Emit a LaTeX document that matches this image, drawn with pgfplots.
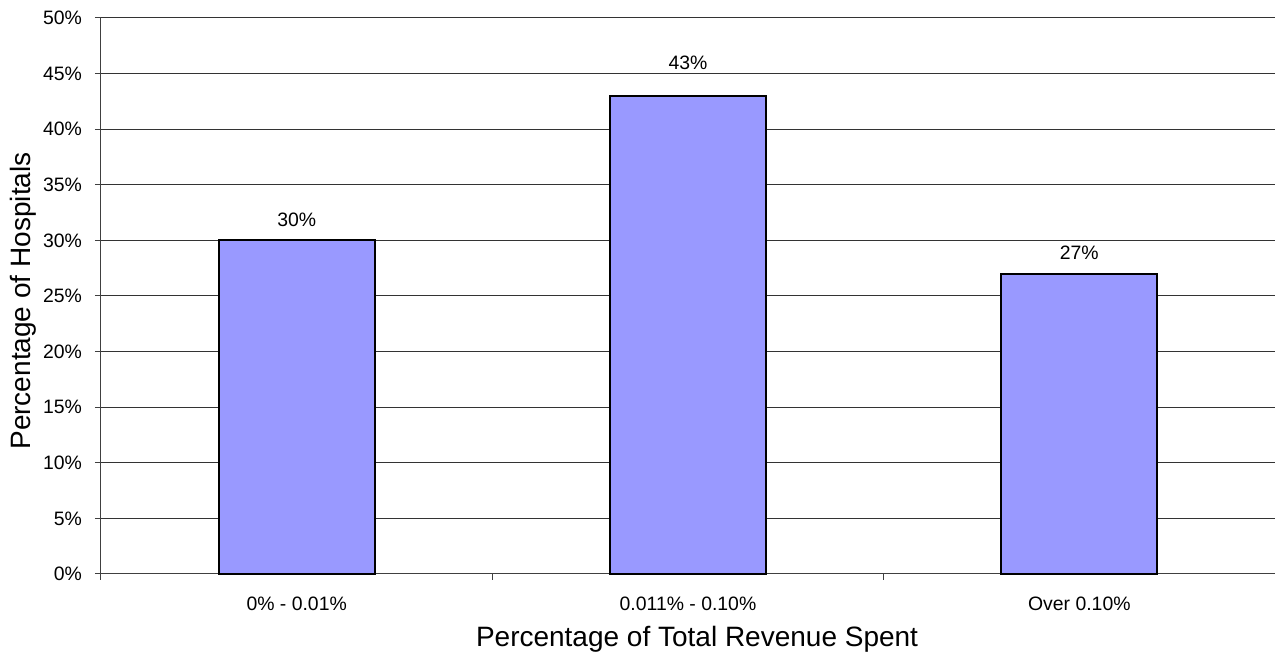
\documentclass[border=0pt]{standalone}
\usepackage{pgfplots}
\pgfplotsset{compat=1.18}
\usepackage{fontspec}
\setmainfont{Liberation Sans}
\definecolor{barblue}{RGB}{153,153,255}
\begin{document}
\begin{tikzpicture}
\begin{axis}[
  name=ax,
  scale only axis,
  width=587pt, height=278pt,
  xmin=-0.5, xmax=2.5,
  ymin=0, ymax=50,
  axis x line*=bottom, axis y line*=left,
  axis line style={-, black!75, line width=0.5pt},
  ytick={0,5,...,50},
  yticklabels={0\%,5\%,10\%,15\%,20\%,25\%,30\%,35\%,40\%,45\%,50\%},
  xtick={0,1,2},
  xticklabels={0\% - 0.01\%,0.011\% - 0.10\%,Over 0.10\%},
  minor xtick={-0.5,0.5,1.5},
  major x tick style={draw=none},
  minor x tick style={black!75, line width=0.5pt},
  y tick style={black!75, line width=0.5pt},
  tick align=outside,
  major tick length=3pt, minor tick length=3pt,
  ymajorgrids,
  grid style={black!80, line width=0.5pt},
  tick label style={font=\fontsize{9.7}{11}\selectfont},
  xticklabel style={anchor=center, at={(axis cs:\tick,0)}, yshift=-12pt},
  yticklabel style={xshift=-3pt},
  xlabel={Percentage of Total Revenue Spent},
  ylabel={Percentage of Hospitals},
  label style={font=\fontsize{14}{16}\selectfont},
  xlabel style={at={(axis description cs:0.5077,-0.117)}, anchor=center},
  ylabel style={at={(axis description cs:-0.0664,0.491)}, anchor=center},
  clip=false,
]
\addplot[ybar, bar width=78pt, fill=barblue, draw=black, line width=1pt,
  nodes near coords={\pgfmathprintnumber[assume math mode=true]{\pgfplotspointmeta}\%},
  every node near coord/.style={font=\fontsize{9.7}{11}\selectfont, black, yshift=3pt}]
  coordinates {(0,30) (2,27)};
\addplot[ybar, bar width=78pt, fill=barblue, draw=black, line width=1pt,
  nodes near coords={\pgfmathprintnumber[assume math mode=true]{\pgfplotspointmeta}\%},
  every node near coord/.style={font=\fontsize{9.7}{11}\selectfont, black, yshift=9pt}]
  coordinates {(1,43)};
\end{axis}
\pgfresetboundingbox
\path ([xshift=-50.5pt,yshift=-39.5pt]ax.south west) rectangle ([yshift=9pt]ax.north east);
\end{tikzpicture}
\end{document}
